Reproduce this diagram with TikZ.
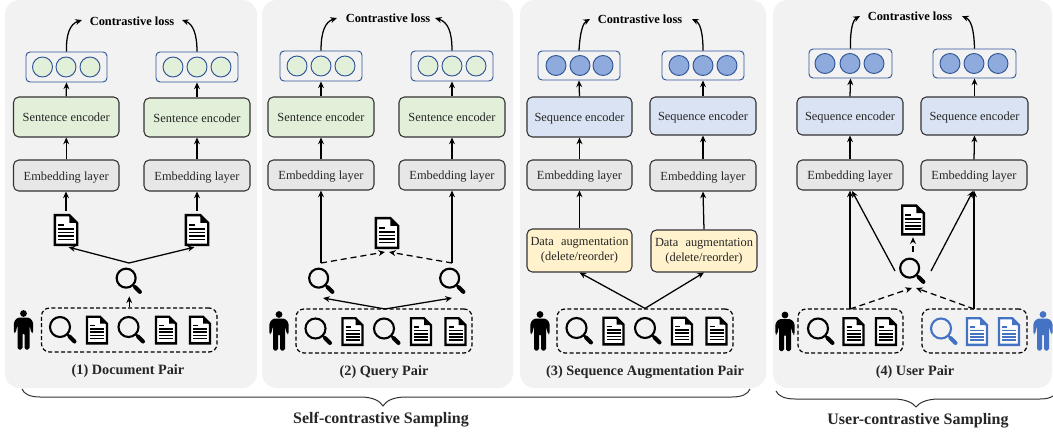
\documentclass[tikz,border=0pt]{standalone}
\usepackage{fontspec}
\setmainfont{Liberation Serif}
\usetikzlibrary{arrows.meta}
\definecolor{panelc}{HTML}{F2F2F2}
\definecolor{embc}{HTML}{E7E7E7}
\definecolor{greenc}{HTML}{E2F0D9}
\definecolor{bluec}{HTML}{DAE3F3}
\definecolor{yelc}{HTML}{FFF2CC}
\definecolor{dotc}{HTML}{8FAADC}
\definecolor{edgec}{HTML}{2F5597}
\definecolor{iconb}{HTML}{4472C4}
\definecolor{darkt}{HTML}{262626}
\tikzset{
  panel/.style={fill=panelc,draw=none,rounded corners=11pt},
  boxb/.style={draw=black!80,line width=.8pt,rounded corners=4pt,inner sep=0pt,align=center,text=darkt,font=\fontsize{9.3}{11.2}\selectfont},
  oneline/.style={boxb,text height=9pt,text depth=2pt},
  emb/.style={oneline,fill=embc},
  encg/.style={oneline,fill=greenc},
  encb/.style={oneline,fill=bluec},
  aug/.style={boxb,fill=yelc},
  vecb/.style={draw=edgec,line width=.7pt,rounded corners=3pt,fill=none,inner sep=0pt},
  dotg/.style={circle,draw=edgec,line width=.7pt,fill=greenc,minimum size=15pt,inner sep=0pt},
  dotb/.style={circle,draw=edgec,line width=.7pt,fill=dotc,minimum size=15pt,inner sep=0pt},
  arr/.style={draw=black,line width=.95pt,-{Stealth[length=5pt,width=4.4pt]}},
  darr/.style={arr,dash pattern=on 4.5pt off 3pt},
  group/.style={draw=black,line width=.9pt,dash pattern=on 3pt off 1.8pt,rounded corners=6pt,inner sep=0pt},
  lossl/.style={font=\fontsize{9.3}{11}\selectfont\bfseries,text=black,inner sep=0pt},
  pairl/.style={font=\fontsize{10.7}{13}\selectfont\bfseries,text=darkt,inner sep=0pt},
  catl/.style={font=\fontsize{12}{15}\selectfont\bfseries,text=darkt,inner sep=0pt},
  brace/.style={draw=black!80,line width=.75pt},
  anchorbox/.style={inner sep=0pt,draw=none,fill=none}
}
% box: name, style, x1,y1,x2,y2, text
\newcommand\boxn[7]{\node[#2,minimum width={(#5-#3)*0.75pt},minimum height={(#6-#4)*0.75pt}] (#1) at ({(#3+#5)/2},{(#4+#6)/2}) {#7};}
% vector: name, dot style, x1,y1,x2,y2, c1,c2,c3
\newcommand\vecn[9]{\boxn{#1}{vecb}{#3}{#4}{#5}{#6}{}
  \node[#2] (#1a) at (#7,{(#4+#6)/2}) {};\node[#2] (#1b) at (#8,{(#4+#6)/2}) {};\node[#2] (#1c) at (#9,{(#4+#6)/2}) {};}
% document icon: name, cx, cy, scale, colour
\newcommand\docu[5]{\node[anchorbox,minimum width={22*#4*0.75pt},minimum height={29*#4*0.75pt}] (#1) at (#2,#3) {};
  \begin{scope}[shift={(#2,#3)},scale=#4]
    \draw[#5,line width=1.8pt,fill=white,line join=miter] (-10,-13.3)--(3,-13.3)--(10,-6.3)--(10,13.3)--(-10,13.3)--cycle;
    \fill[#5] (3,-13.3)--(3,-6.3)--(10,-6.3)--cycle;
    \draw[#5,line width=1.2pt] (-7,-4.5)--(-2,-4.5) (-7,-1)--(7,-1) (-7,2.2)--(7,2.2) (-7,5.4)--(7,5.4) (-7,8.6)--(7,8.6);
  \end{scope}}
% magnifier icon: name, cx, cy, scale, colour
\newcommand\magn[5]{\node[anchorbox,minimum width={28*#4*0.75pt},minimum height={28*#4*0.75pt}] (#1) at (#2,#3) {};
  \begin{scope}[shift={(#2,#3)},scale=#4]
    \draw[#5,line width=1.6pt] (-3,-3) circle (10);
    \draw[#5,line width=1.6pt] (4,4)--(7,7);
    \draw[#5,line width=3pt,line cap=round] (6.5,6.5)--(11.5,11.5);
  \end{scope}}
% person icon: name, cx, cy, colour
\newcommand\person[4]{\node[anchorbox,minimum width=15pt,minimum height=30pt] (#1) at (#2,#3) {};
  \begin{scope}[shift={(#2,#3)}]
    \fill[#4] (0,-16.5) circle (3.4);
    \fill[#4,rounded corners=1.2pt] (-6,-12.5)--(6,-12.5)--(9.7,-8)--(9.7,3)--(7.9,3)--(6,-5)--(6,19.5)--(1,19.5)--(1,3)--(-1,3)--(-1,19.5)--(-6,19.5)--(-6,-5)--(-7.9,3)--(-9.7,3)--(-9.7,-8)--cycle;
  \end{scope}}
\begin{document}
\begin{tikzpicture}[x=0.75pt,y=-0.75pt]
\useasboundingbox (0,0) rectangle (1053,435);
% panels
\boxn{p1}{panel}{5}{0}{257}{388}{}
\boxn{p2}{panel}{262}{0}{513}{388}{}
\boxn{p3}{panel}{520}{0}{766}{388}{}
\boxn{p4}{panel}{773}{0}{1052}{388}{}

% ---------- panel 1
\vecn{v1}{dotg}{26}{52}{107}{82}{42.5}{66}{90}
\vecn{v2}{dotg}{156}{52}{238}{82}{173}{197}{221}
\boxn{s1}{encg}{13.5}{97}{119}{137}{Sentence encoder}
\boxn{s2}{encg}{144}{98}{250}{137}{Sentence encoder}
\boxn{e1}{emb}{13.5}{160}{119}{191}{Embedding layer}
\boxn{e2}{emb}{144}{160}{250}{191}{Embedding layer}
\node[lossl] (l1) at (132,21) {Contrastive loss};
\coordinate (w1) at (82,20);\coordinate (w2) at (182,20);
\draw[arr] (v1.north) .. controls (66,34) and (70,24) .. (w1);
\draw[arr] (v2.north) .. controls (197,34) and (193,24) .. (w2);
\draw[arr] (s1.north) -- (v1.south);
\draw[arr] (s2.north) -- (v2.south);
\draw[arr] (e1.north) -- (s1.south);
\draw[arr] (e2.north) -- (s2.south);
\docu{d1}{66}{230}{1.12}{black}
\docu{d2}{197}{230}{1.12}{black}
\draw[arr,shorten <=2pt] (d1.north) -- (e1.south -| d1.north);
\draw[arr,shorten <=2pt] (d2.north) -- (e2.south -| d2.north);
\coordinate (f1) at (129,263);
\draw[arr,shorten >=2pt] (f1) -- (d1.south);
\draw[arr,shorten >=2pt] (f1) -- (d2.south);
\magn{m1}{129}{281}{.95}{black}
\boxn{g1}{group}{41.5}{308}{217}{352}{}
\draw[arr] (g1.north) -- ++(0,-11);
\person{u1}{23.5}{330}{black}
\magn{a1}{63}{330}{1}{black}
\docu{a2}{97}{330}{1}{black}
\magn{a3}{131.5}{330}{1}{black}
\docu{a4}{166}{330}{1}{black}
\docu{a5}{200}{330}{1}{black}
\node[pairl] (t1) at (128,371) {(1) Document Pair};

% ---------- panel 2
\vecn{v3}{dotg}{280}{51}{362}{81}{297}{321}{345}
\vecn{v4}{dotg}{411}{51}{493}{81}{428}{452}{476}
\boxn{s3}{encg}{268}{97}{374}{137}{Sentence encoder}
\boxn{s4}{encg}{399}{97}{505}{137}{Sentence encoder}
\boxn{e3}{emb}{268}{160}{374}{190}{Embedding layer}
\boxn{e4}{emb}{399}{160}{505}{190}{Embedding layer}
\node[lossl] (l2) at (388,18) {Contrastive loss};
\coordinate (w3) at (337,18);\coordinate (w4) at (435,18);
\draw[arr] (v3.north) .. controls (321,32) and (325,22) .. (w3);
\draw[arr] (v4.north) .. controls (452,32) and (448,22) .. (w4);
\draw[arr] (s3.north) -- (v3.south);
\draw[arr] (s4.north) -- (v4.south);
\draw[arr] (e3.north) -- (s3.south);
\draw[arr] (e4.north) -- (s4.south);
\docu{d3}{387}{233}{1.12}{black}
\coordinate (c3) at (321,263);
\coordinate (c4) at (452,263);
\coordinate (c5) at (385,252);
\coordinate (c6) at (389,252);
\draw[arr] (c3) -- (e3.south -| c3);
\draw[arr] (c4) -- (e4.south -| c4);
\draw[darr] (c3) -- (c5);
\draw[darr] (c4) -- (c6);
\magn{m2}{321.5}{281}{.95}{black}
\magn{m3}{452.5}{281}{.95}{black}
\coordinate (f2) at (385,309);
\coordinate (h3) at (323,298);
\coordinate (h4) at (452,298);
\draw[arr] (f2) -- (h3);
\draw[arr] (f2) -- (h4);
\boxn{g2}{group}{296}{309}{472}{353}{}
\person{u2}{279}{331}{black}
\magn{b1}{318.5}{331.5}{1}{black}
\docu{b2}{352.5}{331.5}{1}{black}
\magn{b3}{387}{331.5}{1}{black}
\docu{b4}{421}{331.5}{1}{black}
\docu{b5}{455.5}{331.5}{1}{black}
\node[pairl] (t2) at (384,372) {(2) Query Pair};

% ---------- panel 3
\vecn{v5}{dotb}{538}{51}{620}{80}{556}{580}{603}
\vecn{v6}{dotb}{662}{51}{744}{80}{679}{703}{727}
\boxn{s5}{encb}{527}{97}{632}{137}{Sequence encoder}
\boxn{s6}{encb}{650}{97}{756}{135}{Sequence encoder}
\boxn{e5}{emb}{527}{160}{632}{190}{Embedding layer}
\boxn{e6}{emb}{650}{160}{756}{191}{Embedding layer}
\boxn{q1}{aug}{527}{229}{632}{272}{Data\hspace{3pt} augmentation\\(delete/reorder)}
\boxn{q2}{aug}{651}{230}{757}{272}{Data\hspace{3pt} augmentation\\(delete/reorder)}
\node[lossl] (l3) at (640,19) {Contrastive loss};
\coordinate (w5) at (590,19);\coordinate (w6) at (692,19);
\draw[arr] (v5.north) .. controls (580,32) and (583,23) .. (w5);
\draw[arr] (v6.north) .. controls (703,32) and (700,23) .. (w6);
\draw[arr] (s5.north) -- (v5.south);
\draw[arr] (s6.north) -- (v6.south);
\draw[arr] (e5.north) -- (s5.south);
\draw[arr] (e6.north) -- (s6.south);
\draw[arr] (q1.north) -- (e5.south);
\draw[arr] (q2.north) -- (e6.south);
\boxn{g3}{group}{557}{309}{733}{353}{}
\draw[arr] (g3.north) -- (q1.south);
\draw[arr] (g3.north) -- (q2.south);
\person{u3}{540}{331}{black}
\magn{k1}{579.5}{331}{1}{black}
\docu{k2}{613.5}{331}{1}{black}
\magn{k3}{648}{331}{1}{black}
\docu{k4}{682}{331}{1}{black}
\docu{k5}{716.5}{331}{1}{black}
\node[pairl] (t3) at (645,372) {(3) Sequence Augmentation Pair};

% ---------- panel 4
\vecn{v7}{dotb}{809}{49}{892}{78}{825}{850}{874}
\vecn{v8}{dotb}{933}{49}{1016}{78}{950}{974}{998}
\boxn{s7}{encb}{797}{97}{903}{135}{Sequence encoder}
\boxn{s8}{encb}{921}{97}{1028}{135}{Sequence encoder}
\boxn{e7}{emb}{797}{160}{903}{190}{Embedding layer}
\boxn{e8}{emb}{921}{160}{1027}{190}{Embedding layer}
\node[lossl] (l4) at (910,16) {Contrastive loss};
\coordinate (w7) at (860,16);\coordinate (w8) at (962,16);
\draw[arr] (v7.north) .. controls (850,29) and (853,20) .. (w7);
\draw[arr] (v8.north) .. controls (974,29) and (971,20) .. (w8);
\draw[arr] (s7.north) -- (v7.south);
\draw[arr] (s8.north) -- (v8.south);
\draw[arr] (e7.north) -- (s7.south);
\draw[arr] (e8.north) -- (s8.south);
\docu{d4}{913}{220}{1.08}{black}
\magn{m4}{912.5}{271}{.95}{black}
\boxn{g4}{group}{798}{309}{903}{353}{}
\boxn{g5}{group}{922}{309}{1027}{353}{}
\coordinate (r1) at (850,309);
\coordinate (r2) at (974,309);
\coordinate (r3) at (912,288);
\coordinate (r4) at (916,288);
\coordinate (r5) at (895,271);
\coordinate (r6) at (931,271);
\coordinate (r7) at (852,191);
\coordinate (r8) at (973,191);
\coordinate (r9) at (913,252);
\draw[arr] (r1) -- (e7.south -| r1);
\draw[arr] (r2) -- (e8.south -| r2);
\draw[arr] (r5) -- (r7);
\draw[arr] (r6) -- (r8);
\draw[darr] (r1) -- (r3);
\draw[darr] (r2) -- (r4);
\draw[darr,shorten >=1pt] (r9) -- (d4.south);
\person{u4}{785}{331.5}{black}
\person{u5}{1043}{331}{iconb}
\magn{n1}{821}{331.5}{1}{black}
\docu{n2}{853.5}{331.5}{1}{black}
\docu{n3}{886}{331.5}{1}{black}
\magn{n4}{944}{331.5}{1}{iconb}
\docu{n5}{977}{331.5}{1}{iconb}
\docu{n6}{1009}{331.5}{1}{iconb}
\node[pairl] (t4) at (915,372) {(4) User Pair};

% braces
\coordinate (z1) at (22,389);\coordinate (z2) at (383,406);\coordinate (z3) at (750,389);
\draw[brace] (z1) .. controls (24,394) and (30,397) .. (40,397) -- (360,397) .. controls (373,397) and (380,401) .. (z2) .. controls (386,401) and (393,397) .. (406,397) -- (732,397) .. controls (742,397) and (748,394) .. (z3);
\coordinate (z4) at (776,391);\coordinate (z5) at (916,407);\coordinate (z6) at (1053,396);
\draw[brace] (z4) .. controls (778,396) and (785,399) .. (795,399) -- (893,399) .. controls (906,399) and (913,403) .. (z5) .. controls (919,403) and (926,399) .. (939,399) -- (1040,399) .. controls (1046,399) and (1050,398) .. (z6);
\node[catl] (y1) at (381,420) {Self-contrastive Sampling};
\node[catl] (y2) at (918,421) {User-contrastive Sampling};
\end{tikzpicture}
\end{document}
